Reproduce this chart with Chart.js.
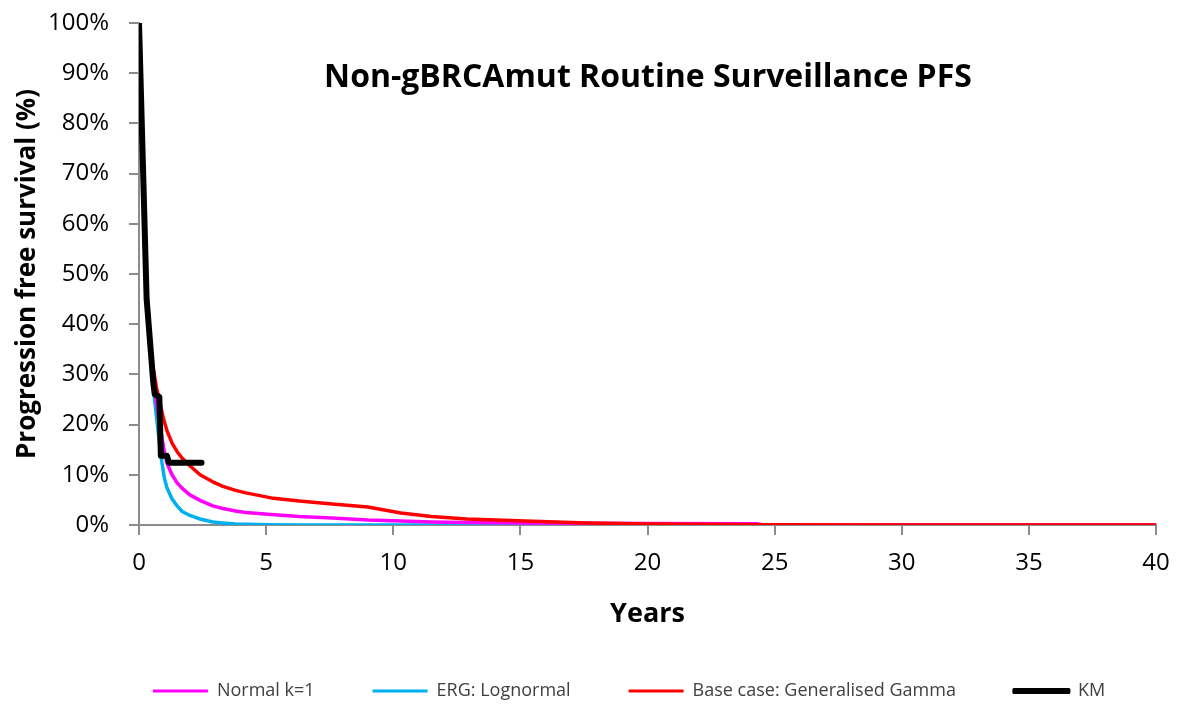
<!DOCTYPE html>
<html>
<head>
<meta charset="utf-8">
<script src="https://cdn.jsdelivr.net/npm/chart.js@4.4.1/dist/chart.umd.min.js"></script>
<style>
  html, body { margin: 0; padding: 0; background: #fff; }
  #wrap { width: 1184px; height: 705px; position: relative; }
</style>
</head>
<body>
<div id="wrap"><canvas id="myChart"></canvas></div>
<script>
// Years grid shared by the fitted curves
const fitYears = [0, 0.1, 0.2, 0.3, 0.5, 0.7, 0.8, 0.9, 1.0, 1.1, 1.3, 1.5, 1.7, 2.0, 2.4, 2.9, 3.3, 3.8, 4.2, 5.2, 6.3, 7.6, 9, 10.3, 11.5, 12.9, 15.2, 17.6, 20, 24.3, 24.5, 30, 40];

// PFS (%) per fitted model
const normalK1 = [100, 82, 60, 46, 31, 24, 20.5, 17.5, 14.5, 12.3, 10.0, 8.4, 7.3, 6.0, 4.9, 3.8, 3.3, 2.8, 2.5, 2.1, 1.7, 1.4, 1.0, 0.8, 0.6, 0.5, 0.4, 0.35, 0.3, 0.25, 0.05, 0, 0];
const ergLognormal = [100, 80, 58, 45, 30, 21, 16.5, 12.5, 9.3, 7.4, 5.2, 3.8, 2.7, 1.9, 1.2, 0.6, 0.4, 0.2, 0.15, 0.05, 0, 0, 0, 0, 0, 0, 0, 0, 0, 0, 0, 0, 0];
const baseGenGamma = [100, 84, 62, 47, 33, 27, 25, 22.5, 20.5, 18.8, 16.3, 14.6, 13.3, 11.8, 10.0, 8.6, 7.7, 6.9, 6.4, 5.4, 4.8, 4.2, 3.6, 2.4, 1.7, 1.2, 0.8, 0.4, 0.2, 0.05, 0.03, 0, 0];

// Kaplan-Meier
const kmYears = [0, 0.3, 0.56, 0.62, 0.8, 0.86, 1.1, 1.18, 2.46];
const kmPfs = [100, 45, 28.5, 26, 25.5, 13.8, 13.8, 12.4, 12.4];

const xTicks = [0, 5, 10, 15, 20, 25, 30, 35, 40];

const toPoints = (xs, ys) => xs.map((x, i) => ({ x: x, y: ys[i] }));

const FONT = '"Open Sans", Lato, sans-serif';
const axisGrey = '#8c8c8c';

const titlePlugin = {
    id: 'innerTitle',
    afterLayout(chart) {
        // legend sits a little right of centre and lower in the original
        chart.legend.left += 47;
        chart.legend.right += 47;
        chart.legend.top += 5;
        chart.legend.bottom += 5;
    },
    afterDraw(chart) {
        const ctx = chart.ctx;
        const area = chart.chartArea;
        ctx.save();
        ctx.font = 'bold 32px ' + FONT;
        ctx.fillStyle = '#000';
        ctx.textAlign = 'center';
        ctx.textBaseline = 'middle';
        ctx.fillText('Non-gBRCAmut Routine Surveillance PFS', area.left + 509, area.top + 55);
        ctx.restore();
    }
};

const ctx = document.getElementById('myChart');
const myChart = new Chart(ctx, {
    type: 'line',
    data: {
        datasets: [{
            label: 'Normal k=1',
            data: toPoints(fitYears, normalK1),
            borderColor: '#ff00ff',
            backgroundColor: '#ff00ff',
            borderWidth: 3.5,
            order: 2
        }, {
            label: 'ERG: Lognormal',
            data: toPoints(fitYears, ergLognormal),
            borderColor: '#00b0f0',
            backgroundColor: '#00b0f0',
            borderWidth: 3.5,
            order: 3
        }, {
            label: 'Base case: Generalised Gamma',
            data: toPoints(fitYears, baseGenGamma),
            borderColor: '#ff0000',
            backgroundColor: '#ff0000',
            borderWidth: 3.5,
            order: 1
        }, {
            label: 'KM',
            data: toPoints(kmYears, kmPfs),
            borderColor: '#000000',
            backgroundColor: '#000000',
            borderWidth: 6,
            order: 0
        }]
    },
    options: {
        responsive: true,
        maintainAspectRatio: false,
        animation: false,
        elements: {
            point: { radius: 0 },
            line: { tension: 0, borderJoinStyle: 'round', borderCapStyle: 'round' }
        },
        layout: {
            padding: { left: 8, right: 28, top: 23, bottom: 0 }
        },
        scales: {
            x: {
                type: 'linear',
                min: 0,
                max: 40,
                afterBuildTicks: scale => {
                    scale.ticks = xTicks.map(v => ({ value: v }));
                },
                afterFit: scale => { scale.height = 94; },
                border: { color: axisGrey, width: 2 },
                grid: { drawOnChartArea: false, drawTicks: true, tickLength: 10, color: axisGrey, lineWidth: 2 },
                ticks: { color: '#000', font: { family: FONT, size: 24 }, padding: 14, maxRotation: 0 },
                title: {
                    display: true,
                    text: 'Years',
                    color: '#000',
                    font: { family: FONT, size: 27, weight: 'bold' },
                    padding: { top: 0, bottom: -12 }
                }
            },
            y: {
                min: 0,
                max: 100,
                afterFit: scale => {
                    scale.width = 131;
                    scale.paddingTop = 0;
                },
                border: { color: axisGrey, width: 2 },
                grid: { drawOnChartArea: false, drawTicks: true, tickLength: 10, color: axisGrey, lineWidth: 2 },
                ticks: {
                    stepSize: 10,
                    color: '#000',
                    font: { family: FONT, size: 24 },
                    padding: 20,
                    callback: v => v + '%'
                },
                title: {
                    display: true,
                    text: 'Progression free survival (%)',
                    color: '#000',
                    font: { family: FONT, size: 26, weight: 'bold' },
                    padding: { bottom: 0 }
                }
            }
        },
        plugins: {
            legend: {
                position: 'bottom',
                labels: {
                    color: '#404040',
                    font: { family: FONT, size: 18 },
                    boxWidth: 55,
                    boxHeight: 3,
                    padding: 58,
                    sort: (a, b) => a.datasetIndex - b.datasetIndex,
                    generateLabels: chart => {
                        const items = Chart.defaults.plugins.legend.labels.generateLabels(chart);
                        items.forEach(item => {
                            item.lineWidth = item.text === 'KM' ? 3 : 0;
                        });
                        return items;
                    }
                }
            },
            tooltip: { enabled: false }
        }
    },
    plugins: [titlePlugin]
});
</script>
</body>
</html>
